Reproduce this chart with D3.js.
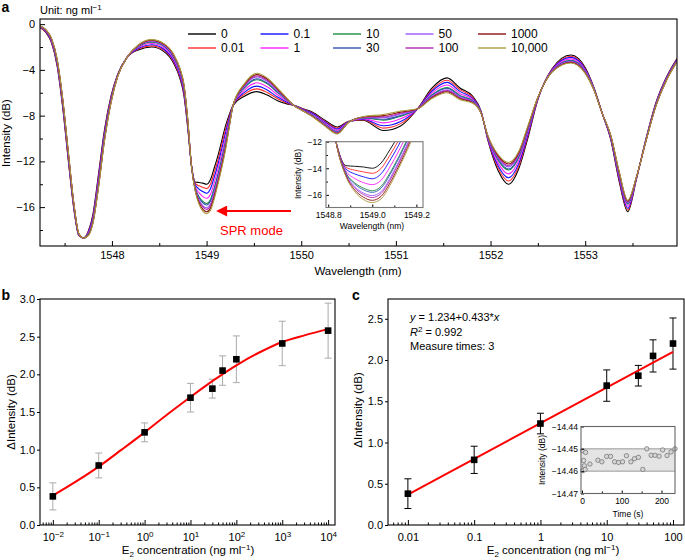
<!DOCTYPE html>
<html>
<head>
<meta charset="utf-8">
<script src="https://cdn.jsdelivr.net/npm/d3@7"></script>
<style>
body{margin:0;background:#fff}
svg{display:block}
</style>
</head>
<body>
<div id="chart"></div>
<script>
// ---------- panel a : spectra, one array per E2 concentration ----------
var wavelength = [1547.24,1547.30,1547.36,1547.42,1547.48,1547.54,1547.60,1547.65,1547.70,1547.75,
  1547.80,1547.86,1547.92,1547.99,1548.06,1548.16,1548.28,1548.42,1548.55,1548.65,
  1548.72,1548.76,1548.80,1548.84,1548.88,1548.92,1548.96,1549.00,1549.04,1549.08,
  1549.12,1549.16,1549.20,1549.24,1549.28,1549.40,1549.53,1549.64,1549.75,1549.84,
  1549.92,1550.02,1550.12,1550.25,1550.38,1550.50,1550.65,1550.87,1551.05,1551.23,
  1551.38,1551.54,1551.68,1551.81,1551.90,1551.97,1552.08,1552.19,1552.30,1552.39,
  1552.50,1552.65,1552.85,1553.00,1553.09,1553.18,1553.27,1553.36,1553.45,1553.54,
  1553.64,1553.75,1553.86,1553.97];

var int0 = [-0.3,-0.7,-1.6,-3.6,-7.3,-12.0,-16.3,-18.5,-18.7,-18.1,
  -16.6,-13.0,-9.3,-6.3,-4.4,-2.9,-2.25,-2.0,-2.4,-3.4,
  -4.8,-6.2,-9.0,-12.3,-13.8,-13.85,-13.9,-14.0,-13.6,-12.6,
  -11.5,-10.2,-8.9,-7.9,-7.1,-6.3,-5.9,-6.2,-6.7,-6.95,
  -7.1,-7.4,-7.7,-8.4,-9.0,-8.5,-8.4,-9.3,-8.9,-7.4,
  -5.6,-4.7,-5.6,-6.3,-7.6,-10.1,-12.8,-14.0,-12.6,-10.1,
  -6.6,-3.9,-2.7,-3.8,-5.5,-7.8,-10.1,-13.8,-16.4,-13.6,
  -10.1,-6.8,-4.6,-3.0];
var int001 = [-0.28,-0.66,-1.54,-3.51,-7.18,-11.88,-16.22,-18.47,-18.7,-18.16,
  -16.72,-13.18,-9.45,-6.39,-4.43,-2.9,-2.18,-1.90,-2.29,-3.28,
  -4.66,-6.05,-8.88,-12.32,-13.92,-14.14,-14.27,-14.38,-14.01,-13.01,
  -11.88,-10.56,-9.22,-8.07,-7.1,-6.13,-5.66,-5.97,-6.53,-6.87,
  -7.1,-7.43,-7.76,-8.48,-9.09,-8.52,-8.35,-9.09,-8.7,-7.4,
  -5.74,-4.9,-5.75,-6.39,-7.63,-10.04,-12.59,-13.71,-12.37,-9.93,
  -6.57,-3.95,-2.81,-3.88,-5.53,-7.8,-10.04,-13.66,-16.25,-13.57,
  -10.13,-6.85,-4.65,-3.05];
var int01 = [-0.25,-0.62,-1.48,-3.42,-7.06,-11.76,-16.15,-18.44,-18.7,-18.22,
  -16.84,-13.36,-9.6,-6.48,-4.46,-2.9,-2.11,-1.80,-2.19,-3.16,
  -4.53,-5.9,-8.76,-12.33,-14.04,-14.42,-14.64,-14.79,-14.41,-13.41,
  -12.25,-10.92,-9.53,-8.23,-7.1,-5.97,-5.42,-5.75,-6.37,-6.78,
  -7.1,-7.46,-7.82,-8.55,-9.18,-8.53,-8.31,-8.88,-8.51,-7.4,
  -5.87,-5.09,-5.9,-6.48,-7.66,-9.98,-12.38,-13.43,-12.15,-9.77,
  -6.54,-3.99,-2.91,-3.95,-5.56,-7.8,-9.98,-13.53,-16.1,-13.54,
  -10.16,-6.89,-4.69,-3.09];
var int1 = [-0.23,-0.58,-1.41,-3.31,-6.92,-11.62,-16.06,-18.40,-18.7,-18.29,
  -16.98,-13.58,-9.78,-6.59,-4.50,-2.9,-2.03,-1.69,-2.06,-3.02,
  -4.37,-5.72,-8.62,-12.35,-14.18,-14.76,-15.08,-15.23,-14.9,-13.9,
  -12.7,-11.35,-9.91,-8.43,-7.1,-5.77,-5.13,-5.48,-6.17,-6.69,
  -7.1,-7.50,-7.89,-8.64,-9.29,-8.55,-8.26,-8.63,-8.28,-7.4,
  -6.03,-5.32,-6.08,-6.59,-7.70,-9.91,-12.13,-13.09,-11.88,-9.57,
  -6.50,-4.04,-3.04,-4.04,-5.6,-7.8,-9.91,-13.37,-15.92,-13.5,
  -10.2,-6.94,-4.74,-3.14];
var int10 = [-0.20,-0.54,-1.34,-3.21,-6.78,-11.48,-15.97,-18.37,-18.7,-18.36,
  -17.12,-13.78,-9.95,-6.69,-4.53,-2.9,-1.96,-1.58,-1.94,-2.88,
  -4.21,-5.55,-8.48,-12.37,-14.32,-15.09,-15.49,-15.69,-15.36,-14.36,
  -13.13,-11.76,-10.27,-8.62,-7.1,-5.58,-4.86,-5.22,-5.98,-6.59,
  -7.1,-7.53,-7.96,-8.73,-9.39,-8.57,-8.2,-8.39,-8.05,-7.4,
  -6.19,-5.55,-6.25,-6.69,-7.73,-9.84,-11.89,-12.76,-11.62,-9.38,
  -6.47,-4.1,-3.16,-4.13,-5.63,-7.8,-9.84,-13.21,-15.75,-13.47,
  -10.23,-7.0,-4.8,-3.2];
var int30 = [-0.19,-0.52,-1.32,-3.18,-6.74,-11.44,-15.95,-18.36,-18.7,-18.38,
  -17.16,-13.84,-10.0,-6.72,-4.54,-2.9,-1.93,-1.54,-1.91,-2.84,
  -4.17,-5.5,-8.44,-12.37,-14.36,-15.18,-15.62,-15.81,-15.49,-14.49,
  -13.25,-11.88,-10.37,-8.67,-7.1,-5.53,-4.78,-5.15,-5.93,-6.56,
  -7.1,-7.54,-7.98,-8.75,-9.42,-8.57,-8.19,-8.32,-7.99,-7.4,
  -6.23,-5.61,-6.3,-6.72,-7.74,-9.82,-11.82,-12.67,-11.55,-9.33,
  -6.46,-4.11,-3.19,-4.15,-5.64,-7.8,-9.82,-13.17,-15.7,-13.46,
  -10.24,-7.01,-4.81,-3.21];
var int50 = [-0.18,-0.50,-1.28,-3.12,-6.66,-11.36,-15.90,-18.34,-18.7,-18.42,
  -17.24,-13.96,-10.1,-6.78,-4.56,-2.9,-1.89,-1.48,-1.84,-2.76,
  -4.08,-5.4,-8.36,-12.38,-14.44,-15.37,-15.86,-16.05,-15.76,-14.76,
  -13.5,-12.12,-10.58,-8.78,-7.1,-5.42,-4.62,-5.0,-5.82,-6.51,
  -7.1,-7.56,-8.02,-8.80,-9.48,-8.58,-8.16,-8.18,-7.86,-7.4,
  -6.32,-5.74,-6.4,-6.78,-7.76,-9.78,-11.68,-12.48,-11.4,-9.22,
  -6.44,-4.14,-3.26,-4.2,-5.66,-7.8,-9.78,-13.08,-15.6,-13.44,
  -10.26,-7.04,-4.84,-3.24];
var int100 = [-0.17,-0.49,-1.26,-3.09,-6.62,-11.32,-15.87,-18.33,-18.7,-18.44,
  -17.28,-14.02,-10.15,-6.81,-4.57,-2.9,-1.87,-1.45,-1.80,-2.72,
  -4.03,-5.35,-8.32,-12.39,-14.48,-15.47,-15.98,-16.2,-15.9,-14.9,
  -13.63,-12.24,-10.69,-8.84,-7.1,-5.36,-4.54,-4.92,-5.76,-6.48,
  -7.1,-7.57,-8.04,-8.83,-9.51,-8.59,-8.14,-8.11,-7.79,-7.4,
  -6.37,-5.81,-6.45,-6.81,-7.77,-9.76,-11.61,-12.38,-11.32,-9.16,
  -6.43,-4.16,-3.3,-4.23,-5.67,-7.8,-9.76,-13.03,-15.55,-13.43,
  -10.27,-7.06,-4.86,-3.26];
var int1000 = [-0.16,-0.47,-1.23,-3.04,-6.56,-11.26,-15.83,-18.31,-18.7,-18.47,
  -17.34,-14.12,-10.23,-6.86,-4.59,-2.9,-1.83,-1.40,-1.75,-2.66,
  -3.96,-5.27,-8.26,-12.39,-14.54,-15.62,-16.18,-16.41,-16.11,-15.11,
  -13.83,-12.43,-10.85,-8.92,-7.1,-5.28,-4.41,-4.8,-5.68,-6.44,
  -7.1,-7.59,-8.07,-8.87,-9.56,-8.59,-8.12,-8.0,-7.69,-7.4,
  -6.44,-5.91,-6.53,-6.86,-7.79,-9.73,-11.5,-12.23,-11.2,-9.08,
  -6.41,-4.18,-3.35,-4.27,-5.69,-7.8,-9.73,-12.96,-15.47,-13.41,
  -10.29,-7.08,-4.88,-3.28];
var int10000 = [-0.15,-0.45,-1.2,-3.0,-6.5,-11.2,-15.8,-18.3,-18.7,-18.5,
  -17.4,-14.2,-10.3,-6.9,-4.6,-2.9,-1.8,-1.35,-1.7,-2.6,
  -3.9,-5.2,-8.2,-12.4,-14.6,-15.75,-16.35,-16.58,-16.3,-15.3,
  -14.0,-12.6,-11.0,-9.0,-7.1,-5.2,-4.3,-4.7,-5.6,-6.4,
  -7.1,-7.6,-8.1,-8.9,-9.6,-8.6,-8.1,-7.9,-7.6,-7.4,
  -6.5,-6.0,-6.6,-6.9,-7.8,-9.7,-11.4,-12.1,-11.1,-9.0,
  -6.4,-4.2,-3.4,-4.3,-5.7,-7.8,-9.7,-12.9,-15.4,-13.4,
  -10.3,-7.1,-4.9,-3.3];

var seriesLabels = ["0", "0.01", "0.1", "1", "10", "30", "50", "100", "1000", "10,000"];
var seriesColors = ["#000000", "#ff2a2a", "#1010ff", "#ff20ff", "#1e8c3c", "#3057b0", "#9c55ff", "#b02cb0", "#8e1010", "#a89c3c"];
var spectra = [int0, int001, int01, int1, int10, int30, int50, int100, int1000, int10000];

var tickWave = [1548, 1549, 1550, 1551, 1552, 1553];
var tickInt = [-16, -12, -8, -4, 0];

// ---------- panel b : response curve ----------
var conc = [0.01, 0.1, 1, 10, 30, 50, 100, 1000, 10000];
var dInt = [0.38, 0.79, 1.23, 1.69, 1.81, 2.05, 2.20, 2.41, 2.58];
var dErr = [0.18, 0.165, 0.125, 0.19, 0.125, 0.195, 0.31, 0.295, 0.365];
var fitBConc = [0.01, 0.0316, 0.1, 0.316, 1, 3.16, 10, 31.6, 100, 316, 1000, 3162, 10000];
var fitBInt = [0.39, 0.575, 0.775, 1.0, 1.23, 1.47, 1.70, 1.92, 2.12, 2.29, 2.43, 2.52, 2.60];

// ---------- panel c : linear range ----------
var concC = [0.01, 0.1, 1, 10, 30, 50, 100];
var dIntC = [0.38, 0.79, 1.23, 1.69, 1.81, 2.05, 2.20];
var dErrC = [0.18, 0.165, 0.125, 0.19, 0.125, 0.195, 0.31];
var fitCConc = [0.01, 100];
var fitCInt = [0.368, 2.10];

// inset c : stability over time
var stabTime = [1, 9, 4, 6, 2, 8, 20, 40, 50, 62, 72, 82, 92, 102, 112, 123, 132, 142, 153, 163, 174, 184, 194, 203, 214, 224, 234];
var stabInt = [-14.4508, -14.4516, -14.4552, -14.4576, -14.4598, -14.4592, -14.4568, -14.4551, -14.4558, -14.4534,
  -14.4534, -14.4558, -14.4561, -14.4558, -14.4531, -14.4558, -14.4544, -14.4538, -14.4592, -14.4500,
  -14.4529, -14.4529, -14.4533, -14.4505, -14.4530, -14.4514, -14.4500];

var FONT = '"Liberation Sans", Arial, Helvetica, sans-serif';
var W = 685, H = 560;
var svg = d3.select("#chart").append("svg").attr("width", W).attr("height", H)
  .attr("font-family", FONT);
svg.append("rect").attr("width", W).attr("height", H).attr("fill", "#fff");
var defs = svg.append("defs");

function cleanAxis(g, size) {
  g.attr("font-family", FONT).attr("font-size", size);
  g.select(".domain").remove();
  g.selectAll(".tick line").attr("stroke", "#000");
  g.selectAll(".tick text").attr("fill", "#000");
}

function box(g, x0, y0, x1, y1, color) {
  g.append("rect").attr("x", x0).attr("y", y0).attr("width", x1 - x0).attr("height", y1 - y0)
    .attr("fill", "none").attr("stroke", color || "#000").attr("stroke-width", 1.1);
}

function clip(id, x0, y0, x1, y1) {
  defs.append("clipPath").attr("id", id).append("rect")
    .attr("x", x0).attr("y", y0).attr("width", x1 - x0).attr("height", y1 - y0);
}

function panelLetter(t, x, y) {
  svg.append("text").attr("x", x).attr("y", y).attr("font-size", 14).attr("font-weight", "bold").text(t);
}

// ====================== panel a ======================
var ga = svg.append("g");
var xA = d3.scaleLinear().domain([1547.24, 1553.97]).range([40, 677]);
var yA = d3.scaleLinear().domain([-19.4, 0.45]).range([246, 19]);
clip("clipA", 40, 19, 677, 246);

var lineA = d3.line()
  .x(function(d, i) { return xA(wavelength[i]); })
  .y(function(d) { return yA(d); })
  .curve(d3.curveMonotoneX);

ga.append("g").attr("clip-path", "url(#clipA)")
  .selectAll("path").data(spectra).enter().append("path")
  .attr("d", lineA).attr("fill", "none")
  .attr("stroke", function(d, i) { return seriesColors[i]; })
  .attr("stroke-width", 1.1);

var axA = ga.append("g").attr("transform", "translate(0,246)")
  .call(d3.axisBottom(xA).tickValues(tickWave).tickFormat(d3.format("d")).tickSize(-5).tickSizeOuter(0).tickPadding(5));
cleanAxis(axA, 11);
var axAm = ga.append("g").attr("transform", "translate(0,246)")
  .call(d3.axisBottom(xA).tickValues(d3.range(1547.5, 1554, 1)).tickFormat("").tickSize(-3).tickSizeOuter(0));
cleanAxis(axAm, 11);
var ayA = ga.append("g").attr("transform", "translate(40,0)")
  .call(d3.axisLeft(yA).tickValues(tickInt).tickFormat(d3.format("d")).tickSize(-5).tickSizeOuter(0).tickPadding(5));
cleanAxis(ayA, 11);
var ayAm = ga.append("g").attr("transform", "translate(40,0)")
  .call(d3.axisLeft(yA).tickValues([-18, -14, -10, -6, -2]).tickFormat("").tickSize(-3).tickSizeOuter(0));
cleanAxis(ayAm, 11);
box(ga, 40, 19, 677, 246);

ga.append("text").attr("x", 358).attr("y", 275).attr("text-anchor", "middle").attr("font-size", 11.5).text("Wavelength (nm)");
ga.append("text").attr("transform", "translate(10,133) rotate(-90)").attr("text-anchor", "middle").attr("font-size", 11.5).text("Intensity (dB)");
var unit = ga.append("text").attr("x", 40).attr("y", 14).attr("font-size", 11);
unit.append("tspan").text("Unit: ng ml");
unit.append("tspan").attr("dy", -4).attr("font-size", 8).text("\u22121");
panelLetter("a", 1.5, 12);

// legend
var leg = ga.append("g").selectAll("g").data(seriesLabels).enter().append("g")
  .attr("transform", function(d, i) { return "translate(" + (188 + Math.floor(i / 2) * 72.5) + "," + (34 + (i % 2) * 14) + ")"; });
leg.append("line").attr("x1", 0).attr("x2", 28).attr("y1", 0).attr("y2", 0)
  .attr("stroke", function(d, i) { return seriesColors[i]; }).attr("stroke-width", 1.4);
leg.append("text").attr("x", 33).attr("y", 4.3).attr("font-size", 12).text(function(d) { return d; });

// SPR arrow
defs.append("marker").attr("id", "arr").attr("viewBox", "0 0 10 10").attr("refX", 1).attr("refY", 5)
  .attr("markerWidth", 7).attr("markerHeight", 5.5).attr("orient", "auto-start-reverse")
  .append("path").attr("d", "M0,0 L10,5 L0,10 z").attr("fill", "#ff0000");
ga.append("line").attr("x1", 291).attr("x2", 226).attr("y1", 211).attr("y2", 211)
  .attr("stroke", "#ff0000").attr("stroke-width", 2).attr("marker-end", "url(#arr)");
ga.append("text").attr("x", 220).attr("y", 235).attr("font-size", 13).attr("fill", "#ff0000").text("SPR mode");

// inset a
var xI = d3.scaleLinear().domain([1548.79, 1549.23]).range([326, 423]);
var yI = d3.scaleLinear().domain([-16.95, -12]).range([207.5, 141.7]);
clip("clipI", 326, 141.7, 423, 207.5);
ga.append("rect").attr("x", 326).attr("y", 141.7).attr("width", 97).attr("height", 65.8).attr("fill", "#fff");
var lineI = d3.line()
  .x(function(d, i) { return xI(wavelength[i]); })
  .y(function(d) { return yI(d); })
  .curve(d3.curveMonotoneX);
ga.append("g").attr("clip-path", "url(#clipI)")
  .selectAll("path").data(spectra).enter().append("path")
  .attr("d", lineI).attr("fill", "none")
  .attr("stroke", function(d, i) { return seriesColors[i]; })
  .attr("stroke-width", 0.9);
var axI = ga.append("g").attr("transform", "translate(0,207.5)")
  .call(d3.axisBottom(xI).tickValues([1548.8, 1549.0, 1549.2]).tickFormat(d3.format(".1f")).tickSize(-3).tickSizeOuter(0).tickPadding(4));
cleanAxis(axI, 8.5);
var axIm = ga.append("g").attr("transform", "translate(0,207.5)")
  .call(d3.axisBottom(xI).tickValues([1548.9, 1549.1]).tickFormat("").tickSize(-2).tickSizeOuter(0));
cleanAxis(axIm, 8.5);
var ayI = ga.append("g").attr("transform", "translate(326,0)")
  .call(d3.axisLeft(yI).tickValues([-16, -14, -12]).tickFormat(d3.format("d")).tickSize(-3).tickSizeOuter(0).tickPadding(4));
cleanAxis(ayI, 8.5);
var ayIm = ga.append("g").attr("transform", "translate(326,0)")
  .call(d3.axisLeft(yI).tickValues([-15, -13]).tickFormat("").tickSize(-2).tickSizeOuter(0));
cleanAxis(ayIm, 8.5);
box(ga, 326, 141.7, 423, 207.5, "#777");
ga.append("text").attr("transform", "translate(301,174) rotate(-90)").attr("text-anchor", "middle").attr("font-size", 8.5).text("Intensity (dB)");
ga.append("text").attr("x", 372).attr("y", 229).attr("text-anchor", "middle").attr("font-size", 8.5).text("Wavelength (nm)");

// ====================== panel b ======================
var gb = svg.append("g");
var xB = d3.scaleLog().domain([Math.pow(10, -2.28), Math.pow(10, 4.15)]).range([40, 335]);
var yB = d3.scaleLinear().domain([0, 3]).range([525, 299]);
var majB = [0.01, 0.1, 1, 10, 100, 1000, 10000];

var axB = gb.append("g").attr("transform", "translate(0,525)")
  .call(d3.axisBottom(xB).tickValues(majB).tickFormat("").tickSize(-5).tickSizeOuter(0).tickPadding(8));
cleanAxis(axB, 11);
axB.selectAll(".tick text").each(function(d) {
  var t = d3.select(this);
  t.append("tspan").text("10");
  t.append("tspan").attr("dy", "-0.45em").attr("font-size", 8).text(d3.format("d")(Math.round(Math.log10(d))));
});
var axBm = gb.append("g").attr("transform", "translate(0,525)")
  .call(d3.axisBottom(xB).tickValues(xB.ticks().filter(function(v) { return majB.indexOf(v) < 0; })).tickFormat("").tickSize(-2.5).tickSizeOuter(0));
cleanAxis(axBm, 11);
var ayB = gb.append("g").attr("transform", "translate(40,0)")
  .call(d3.axisLeft(yB).tickValues(d3.range(0, 3.01, 0.5)).tickFormat(d3.format(".1f")).tickSize(3).tickSizeOuter(0).tickPadding(2));
cleanAxis(ayB, 11);
box(gb, 40, 299, 335, 525);

gb.selectAll(".eb").data(conc).enter().append("g").each(function(d, i) {
  var g = d3.select(this), x = xB(d), y1 = yB(dInt[i] - dErr[i]), y2 = yB(dInt[i] + dErr[i]);
  g.append("line").attr("x1", x).attr("x2", x).attr("y1", y1).attr("y2", y2);
  g.append("line").attr("x1", x - 3.5).attr("x2", x + 3.5).attr("y1", y1).attr("y2", y1);
  g.append("line").attr("x1", x - 3.5).attr("x2", x + 3.5).attr("y1", y2).attr("y2", y2);
  g.selectAll("line").attr("stroke", "#aaa").attr("stroke-width", 1);
});
gb.append("path").datum(fitBInt)
  .attr("d", d3.line().x(function(d, i) { return xB(fitBConc[i]); }).y(function(d) { return yB(d); }).curve(d3.curveCatmullRom))
  .attr("fill", "none").attr("stroke", "#ff0000").attr("stroke-width", 2);
gb.selectAll(".pt").data(conc).enter().append("rect")
  .attr("x", function(d) { return xB(d) - 3.3; })
  .attr("y", function(d, i) { return yB(dInt[i]) - 3.3; })
  .attr("width", 6.6).attr("height", 6.6).attr("fill", "#000");

var lbB = gb.append("text").attr("x", 188).attr("y", 554).attr("text-anchor", "middle").attr("font-size", 11.5);
lbB.append("tspan").text("E");
lbB.append("tspan").attr("dy", 2.5).attr("font-size", 8).text("2");
lbB.append("tspan").attr("dy", -2.5).text(" concentration (ng ml");
lbB.append("tspan").attr("dy", -4).attr("font-size", 8).text("\u22121");
lbB.append("tspan").attr("dy", 4).text(")");
gb.append("text").attr("transform", "translate(15,412) rotate(-90)").attr("text-anchor", "middle").attr("font-size", 11.5).text("\u0394Intensity (dB)");
panelLetter("b", 1.5, 300);

// ====================== panel c ======================
var gc = svg.append("g");
var xC = d3.scaleLog().domain([Math.pow(10, -2.30), Math.pow(10, 2.166)]).range([388, 684]);
var yC = d3.scaleLinear().domain([0, 2.74]).range([525, 299]);
var majC = [0.01, 0.1, 1, 10, 100];

var axC = gc.append("g").attr("transform", "translate(0,525)")
  .call(d3.axisBottom(xC).tickValues(majC).tickFormat(function(d) { return d3.format("~g")(d); }).tickSize(-5).tickSizeOuter(0).tickPadding(8));
cleanAxis(axC, 11);
var axCm = gc.append("g").attr("transform", "translate(0,525)")
  .call(d3.axisBottom(xC).tickValues(xC.ticks().filter(function(v) { return majC.indexOf(v) < 0; })).tickFormat("").tickSize(-2.5).tickSizeOuter(0));
cleanAxis(axCm, 11);
var ayC = gc.append("g").attr("transform", "translate(388,0)")
  .call(d3.axisLeft(yC).tickValues(d3.range(0, 2.51, 0.5)).tickFormat(d3.format(".1f")).tickSize(3).tickSizeOuter(0).tickPadding(2));
cleanAxis(ayC, 11);
box(gc, 388, 299, 684, 525);

gc.selectAll(".eb").data(concC).enter().append("g").each(function(d, i) {
  var g = d3.select(this), x = xC(d), y1 = yC(dIntC[i] - dErrC[i]), y2 = yC(dIntC[i] + dErrC[i]);
  g.append("line").attr("x1", x).attr("x2", x).attr("y1", y1).attr("y2", y2);
  g.append("line").attr("x1", x - 3.5).attr("x2", x + 3.5).attr("y1", y1).attr("y2", y1);
  g.append("line").attr("x1", x - 3.5).attr("x2", x + 3.5).attr("y1", y2).attr("y2", y2);
  g.selectAll("line").attr("stroke", "#000").attr("stroke-width", 1);
});
gc.append("path").datum(fitCInt)
  .attr("d", d3.line().x(function(d, i) { return xC(fitCConc[i]); }).y(function(d) { return yC(d); }))
  .attr("fill", "none").attr("stroke", "#ff0000").attr("stroke-width", 2);
gc.selectAll(".pt").data(concC).enter().append("rect")
  .attr("x", function(d) { return xC(d) - 3.3; })
  .attr("y", function(d, i) { return yC(dIntC[i]) - 3.3; })
  .attr("width", 6.6).attr("height", 6.6).attr("fill", "#000");

var eq = gc.append("text").attr("x", 410).attr("y", 321).attr("font-size", 11);
eq.append("tspan").attr("font-style", "italic").text("y");
eq.append("tspan").text(" = 1.234+0.433*");
eq.append("tspan").attr("font-style", "italic").text("x");
var r2 = gc.append("text").attr("x", 410).attr("y", 335.5).attr("font-size", 11);
r2.append("tspan").attr("font-style", "italic").text("R");
r2.append("tspan").attr("dy", -4).attr("font-size", 8).text("2");
r2.append("tspan").attr("dy", 4).text(" = 0.992");
gc.append("text").attr("x", 410).attr("y", 350).attr("font-size", 11).text("Measure times: 3");

var lbC = gc.append("text").attr("x", 553).attr("y", 554).attr("text-anchor", "middle").attr("font-size", 11.5);
lbC.append("tspan").text("E");
lbC.append("tspan").attr("dy", 2.5).attr("font-size", 8).text("2");
lbC.append("tspan").attr("dy", -2.5).text(" concentration (ng ml");
lbC.append("tspan").attr("dy", -4).attr("font-size", 8).text("\u22121");
lbC.append("tspan").attr("dy", 4).text(")");
gc.append("text").attr("transform", "translate(362,410) rotate(-90)").attr("text-anchor", "middle").attr("font-size", 11.5).text("\u0394Intensity (dB)");
panelLetter("c", 352, 300);

// inset c
var xS = d3.scaleLinear().domain([-2.5, 234]).range([581, 675]);
var yS = d3.scaleLinear().domain([-14.47, -14.44]).range([493.5, 426.5]);
gc.append("rect").attr("x", 581).attr("y", 426.5).attr("width", 94).attr("height", 67).attr("fill", "#fff");
gc.append("rect").attr("x", 581).attr("y", yS(-14.45)).attr("width", 94).attr("height", yS(-14.46) - yS(-14.45))
  .attr("fill", "#e4e4e4");
gc.selectAll(".bl").data([-14.45, -14.46]).enter().append("line")
  .attr("x1", 581).attr("x2", 675).attr("y1", function(d) { return yS(d); }).attr("y2", function(d) { return yS(d); })
  .attr("stroke", "#999").attr("stroke-width", 1);
gc.append("g").selectAll("circle").data(stabTime).enter().append("circle")
  .attr("cx", function(d) { return xS(d); })
  .attr("cy", function(d, i) { return yS(stabInt[i]); })
  .attr("r", 2.2).attr("fill", "#d6d6d6").attr("stroke", "#777").attr("stroke-width", 0.8);
var axS = gc.append("g").attr("transform", "translate(0,493.5)")
  .call(d3.axisBottom(xS).tickValues([0, 100, 200]).tickSize(-3).tickSizeOuter(0).tickPadding(4));
cleanAxis(axS, 8.5);
var axSm = gc.append("g").attr("transform", "translate(0,493.5)")
  .call(d3.axisBottom(xS).tickValues([50, 150]).tickFormat("").tickSize(-2).tickSizeOuter(0));
cleanAxis(axSm, 8.5);
var aySc = gc.append("g").attr("transform", "translate(581,0)")
  .call(d3.axisLeft(yS).tickValues([-14.47, -14.46, -14.45, -14.44]).tickFormat(d3.format(".2f")).tickSize(-3).tickSizeOuter(0).tickPadding(3));
cleanAxis(aySc, 8.5);
box(gc, 581, 426.5, 675, 493.5, "#666");
gc.append("text").attr("transform", "translate(545,460) rotate(-90)").attr("text-anchor", "middle").attr("font-size", 8.5).text("Intensity (dB)");
gc.append("text").attr("x", 628).attr("y", 517).attr("text-anchor", "middle").attr("font-size", 8.5).text("Time (s)");
</script>
</body>
</html>
